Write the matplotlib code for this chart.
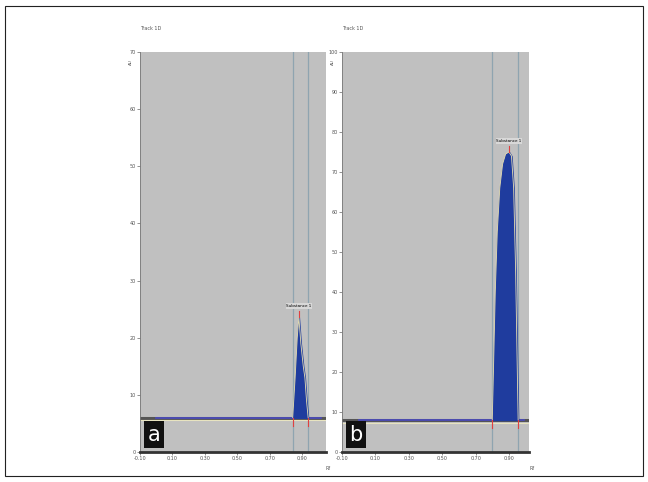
import matplotlib.pyplot as plt
import numpy as np

# track a
a_rf = [0.84, 0.855, 0.868, 0.878, 0.89, 0.905, 0.915, 0.925, 0.935]
a_au = [6, 13, 20, 23.6, 19, 15, 13, 9, 6]
a_base = 6
a_lims = (0.84, 0.935)
a_yticks = [0, 10, 20, 30, 40, 50, 60, 70]

# track b
b_rf = [0.80, 0.808, 0.818, 0.83, 0.845, 0.862, 0.88, 0.90, 0.915, 0.928, 0.94, 0.95, 0.955]
b_au = [8, 22, 40, 55, 66, 72, 74.5, 75, 74, 66, 45, 20, 8]
b_base = 8
b_lims = (0.80, 0.955)
b_yticks = [0, 10, 20, 30, 40, 50, 60, 70, 80, 90, 100]

xticks = [-0.1, 0.1, 0.3, 0.5, 0.7, 0.9]
xlabels = ["-0.10", "0.10", "0.30", "0.50", "0.70", "0.90"]

GRAY = "#c0c0c0"
BLUE = "#1f3c9e"


def draw_track(ax, rf, au, base, lims, yticks, ymax, xmax, tag):
    ax.set_facecolor(GRAY)
    ax.set_xlim(-0.1, xmax)
    ax.set_ylim(0, ymax)
    unit = ymax / 400  # data units per pixel
    ax.fill_between(rf, base, au, color=BLUE, zorder=3)
    ax.plot(rf, au, color="#e8e0b0", lw=0.6, zorder=3)
    ax.axhline(base, color="#555555", lw=2.2, zorder=2)
    ax.axhline(base - 2.5 * unit, color="#e8e4c0", lw=0.8, zorder=2)
    ax.plot([0.0, xmax - 0.03], [base, base], color="#4a4ac0", lw=1.2, zorder=2)
    for x in lims:
        ax.axvline(x, color="#8fa4b0", lw=0.9, zorder=1)
        ax.plot([x, x], [base - 8 * unit, base], color="#e04040", lw=0.8, zorder=4)
    ipk = int(np.argmax(au))
    ax.plot([rf[ipk], rf[ipk]], [au[ipk], au[ipk] + 6 * unit], color="#e04040", lw=0.8, zorder=4)
    ax.text(rf[ipk], au[ipk] + 9 * unit, "Substance 1", fontsize=3, ha="center", va="bottom",
            bbox=dict(facecolor="#d8d8d8", edgecolor="none", pad=0.5), zorder=5)
    ax.set_xticks(xticks)
    ax.set_xticklabels(xlabels, fontsize=3.5, color="#555555")
    ax.set_yticks(yticks)
    ax.set_yticklabels([str(v) for v in yticks], fontsize=3.5, color="#555555")
    ax.tick_params(length=2, width=0.5, color="#666666", pad=1)
    for s in ["top", "right"]:
        ax.spines[s].set_visible(False)
    ax.spines["bottom"].set_linewidth(2)
    ax.spines["bottom"].set_color("#333333")
    ax.spines["left"].set_linewidth(0.6)
    ax.spines["left"].set_color("#777777")
    ax.text(0.04, 0.018, tag, transform=ax.transAxes, fontsize=15, color="white", ha="left", va="bottom",
            bbox=dict(facecolor="#111111", edgecolor="none", pad=2.5), zorder=6)
    ax.text(-0.06, 0.97, "AU", transform=ax.transAxes, fontsize=3, rotation=90, color="#555555")
    ax.text(1.0, -0.045, "Rf", transform=ax.transAxes, fontsize=3.5, color="#555555")
    ax.text(0.0, 1.055, "Track 1D", transform=ax.transAxes, fontsize=3.5, color="#555555")


def main() -> None:
    fig = plt.figure(figsize=(6.48, 4.82), dpi=100)
    fig.patches.append(plt.Rectangle((0.008, 0.012), 0.984, 0.976, transform=fig.transFigure,
                                     fill=False, edgecolor="#222222", lw=0.8))
    ax_a = fig.add_axes([140 / 648, 30 / 482, 186 / 648, 400 / 482])
    ax_b = fig.add_axes([342 / 648, 30 / 482, 187 / 648, 400 / 482])
    draw_track(ax_a, a_rf, a_au, a_base, a_lims, a_yticks, 70, 1.045, "a")
    draw_track(ax_b, b_rf, b_au, b_base, b_lims, b_yticks, 100, 1.02, "b")
    fig.savefig("out.png", dpi=100)
    plt.close(fig)


if __name__ == "__main__":
    main()
